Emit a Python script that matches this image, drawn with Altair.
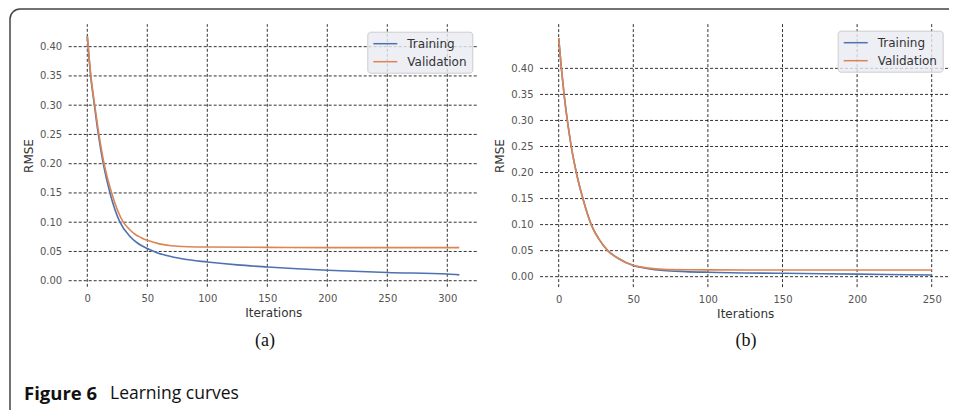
import altair as alt
import pandas as pd

# ---------------- data ----------------
SERIES = ["Training", "Validation"]
COLORS = ["#4c72b0", "#dd8452"]

# panel (a)
A_TRAIN_IT = [0, 2.8, 5.9, 9.2, 13.3, 18.9, 27.2, 35, 42, 50, 58, 66, 80, 100, 125, 150, 175, 200, 250, 300, 310]
A_TRAIN_RMSE = [0.418, 0.35, 0.30, 0.25, 0.20, 0.15, 0.10, 0.077, 0.064, 0.055, 0.048, 0.043, 0.037, 0.032,
                0.027, 0.0235, 0.0205, 0.018, 0.014, 0.0115, 0.010]
A_VAL_IT = [0, 3.0, 6.2, 9.7, 14.0, 20.3, 30, 35, 40, 45, 50, 60, 70, 85, 100, 150, 200, 250, 310]
A_VAL_RMSE = [0.418, 0.35, 0.30, 0.25, 0.20, 0.15, 0.10, 0.088, 0.079, 0.0735, 0.069, 0.063, 0.0597, 0.058,
              0.0575, 0.057, 0.0565, 0.0565, 0.0565]

# panel (b)
B_TRAIN_IT = [0, 1.8, 3.6, 5.8, 8.4, 11.8, 16.2, 21.8, 27, 32.9, 40, 50, 60, 70, 85, 100, 150, 200, 250]
B_TRAIN_RMSE = [0.458, 0.40, 0.35, 0.30, 0.25, 0.20, 0.15, 0.10, 0.072, 0.05, 0.035, 0.0215, 0.0155,
                0.012, 0.0098, 0.0085, 0.0065, 0.005, 0.0033]
B_VAL_IT = [0, 1.8, 3.6, 5.8, 8.4, 11.8, 16.2, 21.8, 27, 32.9, 40, 50, 60, 70, 85, 100, 150, 200, 250]
B_VAL_RMSE = [0.458, 0.40, 0.35, 0.30, 0.25, 0.20, 0.15, 0.10, 0.072, 0.05, 0.035, 0.0218, 0.0165,
              0.014, 0.0132, 0.013, 0.0129, 0.0129, 0.0129]

A_XTICKS = [0, 50, 100, 150, 200, 250, 300]
B_XTICKS = [0, 50, 100, 150, 200, 250]
YTICKS = [0.0, 0.05, 0.10, 0.15, 0.20, 0.25, 0.30, 0.35, 0.40]

CAPTIONS = ["(a)", "(b)"]
FIG_LABEL = "Figure 6"
FIG_TEXT = "Learning curves"
X_TITLE = "Iterations"
Y_TITLE = "RMSE"

# ---------------- layout (chart pixel coordinates) ----------------
W, H = 941, 402
A_XDOM, A_XRANGE = [-15.5, 325.5], [60.7, 469.9]
A_YDOM, A_YRANGE = [-0.0104, 0.4384], [278.8, 16.2]
B_XDOM, B_XRANGE = [-12.5, 262.5], [532.05, 942.35]
B_YDOM, B_YRANGE = [-0.02, 0.485], [279.1, 16.1]

GRID = dict(color="#111111", strokeDash=[3, 2], strokeWidth=1, opacity=0.85)
AXIS_STYLE = dict(grid=False, ticks=False, tickSize=0, domain=False,
                  labelFont="DejaVu Sans", labelFontSize=10, labelColor="#555555", labelPadding=7,
                  labelFlush=False, labelOverlap=False,
                  titleFont="DejaVu Sans", titleFontSize=12, titleFontWeight="normal", titleColor="#333333",
                  titlePadding=4)


def panel(train_it, train_v, val_it, val_v, xticks, xdom, xrange_, ydom, yrange_, legend_xy):
    df = pd.concat([
        pd.DataFrame({"it": train_it, "rmse": train_v, "series": SERIES[0]}),
        pd.DataFrame({"it": val_it, "rmse": val_v, "series": SERIES[1]}),
    ])
    xs = alt.Scale(domain=xdom, range=xrange_, nice=False, zero=False)
    ys = alt.Scale(domain=ydom, range=yrange_, nice=False, zero=False)
    xax = alt.Axis(orient="bottom", values=xticks, format="d", title=X_TITLE,
                   offset=-(H - yrange_[0]), **AXIS_STYLE)
    yax = alt.Axis(orient="left", values=YTICKS, format=".2f", title=Y_TITLE,
                   offset=-xrange_[0], **AXIS_STYLE)

    vgrid = alt.Chart(pd.DataFrame({"t": xticks})).mark_rule(**GRID).encode(
        x=alt.X("t:Q", scale=xs, axis=xax),
        y=alt.Y(datum=ydom[0], type="quantitative", scale=ys, axis=yax),
        y2=alt.Y2(datum=ydom[1]),
    )
    hgrid = alt.Chart(pd.DataFrame({"t": YTICKS})).mark_rule(**GRID).encode(
        y=alt.Y("t:Q", scale=ys, axis=yax),
        x=alt.X(datum=xdom[0], type="quantitative", scale=xs, axis=xax),
        x2=alt.X2(datum=xdom[1]),
    )
    lines = alt.Chart(df).mark_line(strokeWidth=1.6, interpolate="monotone", clip=False).encode(
        x=alt.X("it:Q", scale=xs, axis=xax),
        y=alt.Y("rmse:Q", scale=ys, axis=yax),
        color=alt.Color("series:N",
                        scale=alt.Scale(domain=SERIES, range=COLORS),
                        legend=alt.Legend(title=None, orient="none", legendX=legend_xy[0], legendY=legend_xy[1],
                                          fillColor="rgba(234,234,242,0.8)", strokeColor="#cccccc",
                                          cornerRadius=3, padding=5, symbolType="M-1,0H3", symbolSize=144,
                                          symbolStrokeWidth=1.5, labelFontSize=12, labelFont="DejaVu Sans",
                                          labelColor="#333333", labelOffset=21, rowPadding=5)),
        detail="series:N",
    )
    return alt.layer(vgrid, hgrid, lines)


pa = panel(A_TRAIN_IT, A_TRAIN_RMSE, A_VAL_IT, A_VAL_RMSE, A_XTICKS, A_XDOM, A_XRANGE, A_YDOM, A_YRANGE,
           (359.3, 23.7))
pb = panel(B_TRAIN_IT, B_TRAIN_RMSE, B_VAL_IT, B_VAL_RMSE, B_XTICKS, B_XDOM, B_XRANGE, B_YDOM, B_YRANGE,
           (829.7, 22.7))

one = pd.DataFrame({"k": [0]})
frame = alt.Chart(one).mark_rect(fillOpacity=0, stroke="#444444", strokeWidth=1.5, cornerRadius=10).encode(
    x=alt.value(2), x2=alt.value(1000), y=alt.value(1), y2=alt.value(460))

cap_a = alt.Chart(pd.DataFrame({"t": [CAPTIONS[0]]})).mark_text(
    font="Liberation Serif", fontSize=18, color="#111111", baseline="middle", align="center").encode(
    text="t:N", x=alt.value(257), y=alt.value(333))
cap_b = alt.Chart(pd.DataFrame({"t": [CAPTIONS[1]]})).mark_text(
    font="Liberation Serif", fontSize=18, color="#111111", baseline="middle", align="center").encode(
    text="t:N", x=alt.value(738), y=alt.value(333))
fig_lab = alt.Chart(pd.DataFrame({"t": [FIG_LABEL]})).mark_text(
    font="Open Sans", fontSize=18.5, fontWeight="bold", color="#111111", baseline="middle", align="left").encode(
    text="t:N", x=alt.value(16), y=alt.value(386))
fig_txt = alt.Chart(pd.DataFrame({"t": [FIG_TEXT]})).mark_text(
    font="Open Sans", fontSize=17.5, color="#111111", baseline="middle", align="left").encode(
    text="t:N", x=alt.value(102), y=alt.value(386))

chart = alt.layer(pa, pb, frame, cap_a, cap_b, fig_lab, fig_txt).resolve_scale(
    x="independent", y="independent", color="independent"
).properties(
    width=W, height=H, autosize=alt.AutoSizeParams(type="none"), padding=0, background="white"
).configure_view(stroke=None).configure_axis(
    grid=False, ticks=False, domain=False
)

chart.save("out.html", embed_options={"renderer": "svg", "actions": False})
